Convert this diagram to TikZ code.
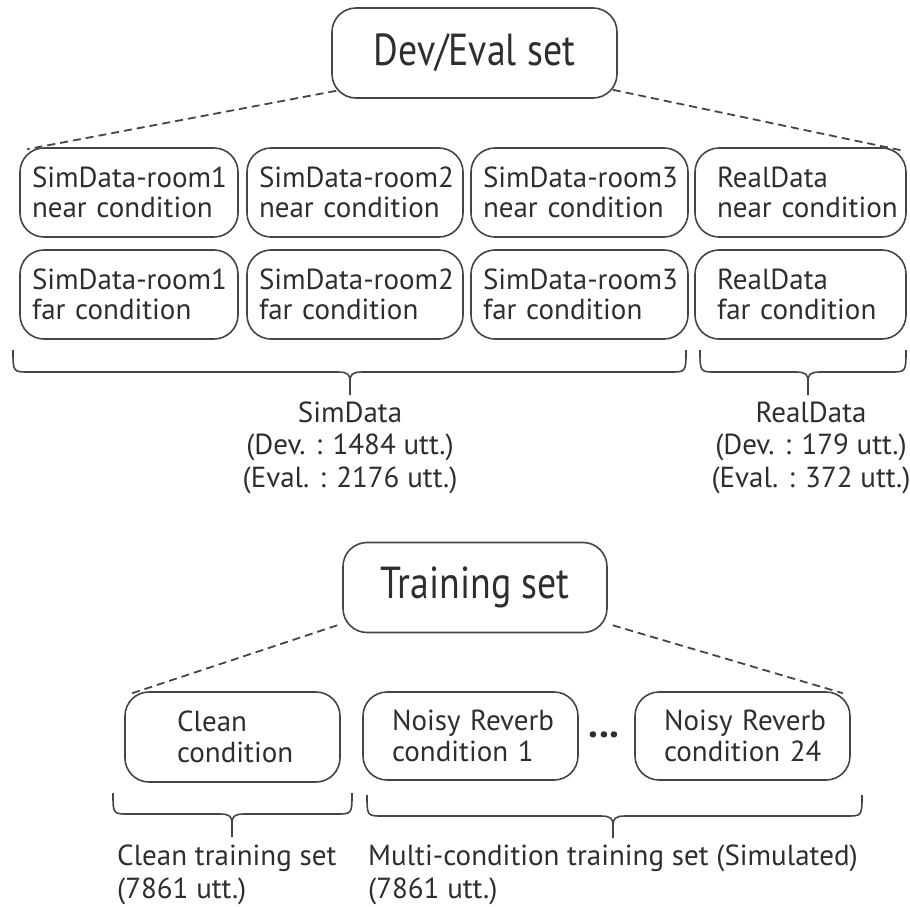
\documentclass[tikz,border=0pt]{standalone}
\usepackage{fontspec}
\setmainfont{PT Sans}
\usetikzlibrary{calc}
\definecolor{ink}{HTML}{2E2E2E}
\definecolor{edge}{HTML}{454545}
% two unbreakable lines inside a box
\newcommand{\boxlines}[2]{\mbox{#1}\\\mbox{#2}}
% taller, slightly narrower heading text
\newcommand{\headtext}[1]{\scalebox{0.97}[1.15]{#1}}
\tikzset{
  box/.style={draw=edge, line width=1.6pt, rounded corners=24pt, text=ink,
    align=left, inner xsep=0pt, inner ysep=0pt, minimum height=89pt,
    font=\fontsize{29}{30.5}\selectfont},
  headbox/.style={box, align=center, minimum height=90pt,
    font=\fontsize{39}{42}\selectfont},
  link/.style={draw=edge, line width=1.8pt, dash pattern=on 8pt off 5pt},
  bracepath/.style={draw=edge, line width=1.6pt},
  label/.style={text=ink, inner sep=0pt, font=\fontsize{29}{32.5}\selectfont}
}
% curly brace: left x, right x, top y, bar y, tip x, tip y
\newcommand{\curlybrace}[6]{%
  \draw[bracepath] (#1,#3) .. controls (#1,#4) .. (#1+16,#4) -- (#5-12,#4)
    .. controls (#5-2,#4) and (#5,#4+3) .. (#5,#4+9) -- (#5,#6);
  \draw[bracepath] (#2,#3) .. controls (#2,#4) .. (#2-16,#4) -- (#5+12,#4)
    .. controls (#5+2,#4) and (#5,#4+3) .. (#5,#4+9);
}
\begin{document}
\begin{tikzpicture}[x=1pt,y=-1pt]
\useasboundingbox (0,0) rectangle (910,907);

% ---- Dev/Eval set ----
\node[headbox, minimum width=285pt] (dev) at (474.5,53) {\headtext{Dev/Eval set}};

\node[box, minimum width=218pt, text width=194pt] (s1n) at (129,192.5) {\boxlines{SimData-room1}{near condition}};
\node[box, minimum width=216pt, text width=192pt] (s2n) at (355,192.5) {\boxlines{SimData-room2}{near condition}};
\node[box, minimum width=217pt, text width=193pt] (s3n) at (579.5,192.5) {\boxlines{SimData-room3}{near condition}};
\node[box, minimum width=211pt, text width=167pt] (rn) at (800.5,192.5) {\boxlines{RealData}{near condition}};

\node[box, minimum width=218pt, text width=194pt] (s1f) at (129,294.5) {\boxlines{SimData-room1}{far condition}};
\node[box, minimum width=216pt, text width=192pt] (s2f) at (355,294.5) {\boxlines{SimData-room2}{far condition}};
\node[box, minimum width=217pt, text width=193pt] (s3f) at (579.5,294.5) {\boxlines{SimData-room3}{far condition}};
\node[box, minimum width=211pt, text width=167pt] (rf) at (800.5,294.5) {\boxlines{RealData}{far condition}};

\draw[link] ([shift={(5pt,8pt)}]dev.south west) -- ([shift={(8pt,-2pt)}]s1n.north west);
\draw[link] ([shift={(-5pt,9pt)}]dev.south east) -- ([shift={(-6pt,-3pt)}]rn.north east);

\curlybrace{13}{686}{350}{372}{350}{395}
\curlybrace{700}{906}{350}{372}{808}{395}

\node[label, align=center, anchor=base] (simlab) at (350,487)
  {SimData\\(Dev. : 1484 utt.)\\(Eval. : 2176 utt.)};
\node[label, align=center, anchor=base] (reallab) at (811,487)
  {RealData\\(Dev. : 179 utt.)\\(Eval. : 372 utt.)};

% ---- Training set ----
\node[headbox, minimum width=264pt] (train) at (475,587.5) {\headtext{Training set}};

\node[box, minimum width=215pt, minimum height=90pt, text width=111pt] (clean) at (232.5,737) {\boxlines{Clean}{condition}};
\node[box, minimum width=215pt, minimum height=88pt, text width=157pt] (nr1) at (470.5,736) {\boxlines{Noisy Reverb}{condition 1}};
\node[box, minimum width=215pt, minimum height=88pt, text width=157pt] (nr24) at (742.5,736) {\boxlines{Noisy Reverb}{condition 24}};
\node[text=ink, inner sep=0pt, font=\fontsize{40}{40}\bfseries] (dots) at (604,735) {...};

\draw[link] ([shift={(-5pt,8pt)}]train.south west) -- ([shift={(8pt,-2pt)}]clean.north west);
\draw[link] ([shift={(5pt,8pt)}]train.south east) -- ([shift={(-8pt,-2pt)}]nr24.north east);

\curlybrace{113}{352}{793}{814}{232}{837}
\curlybrace{367}{862}{795}{816}{613}{838}

\node[label, align=left, anchor=base west] (cleanlab) at (117,898)
  {Clean training set\\(7861 utt.)};
\node[label, align=left, anchor=base west] (multilab) at (368,898)
  {Multi-condition training set (Simulated)\\(7861 utt.)};
\end{tikzpicture}
\end{document}
